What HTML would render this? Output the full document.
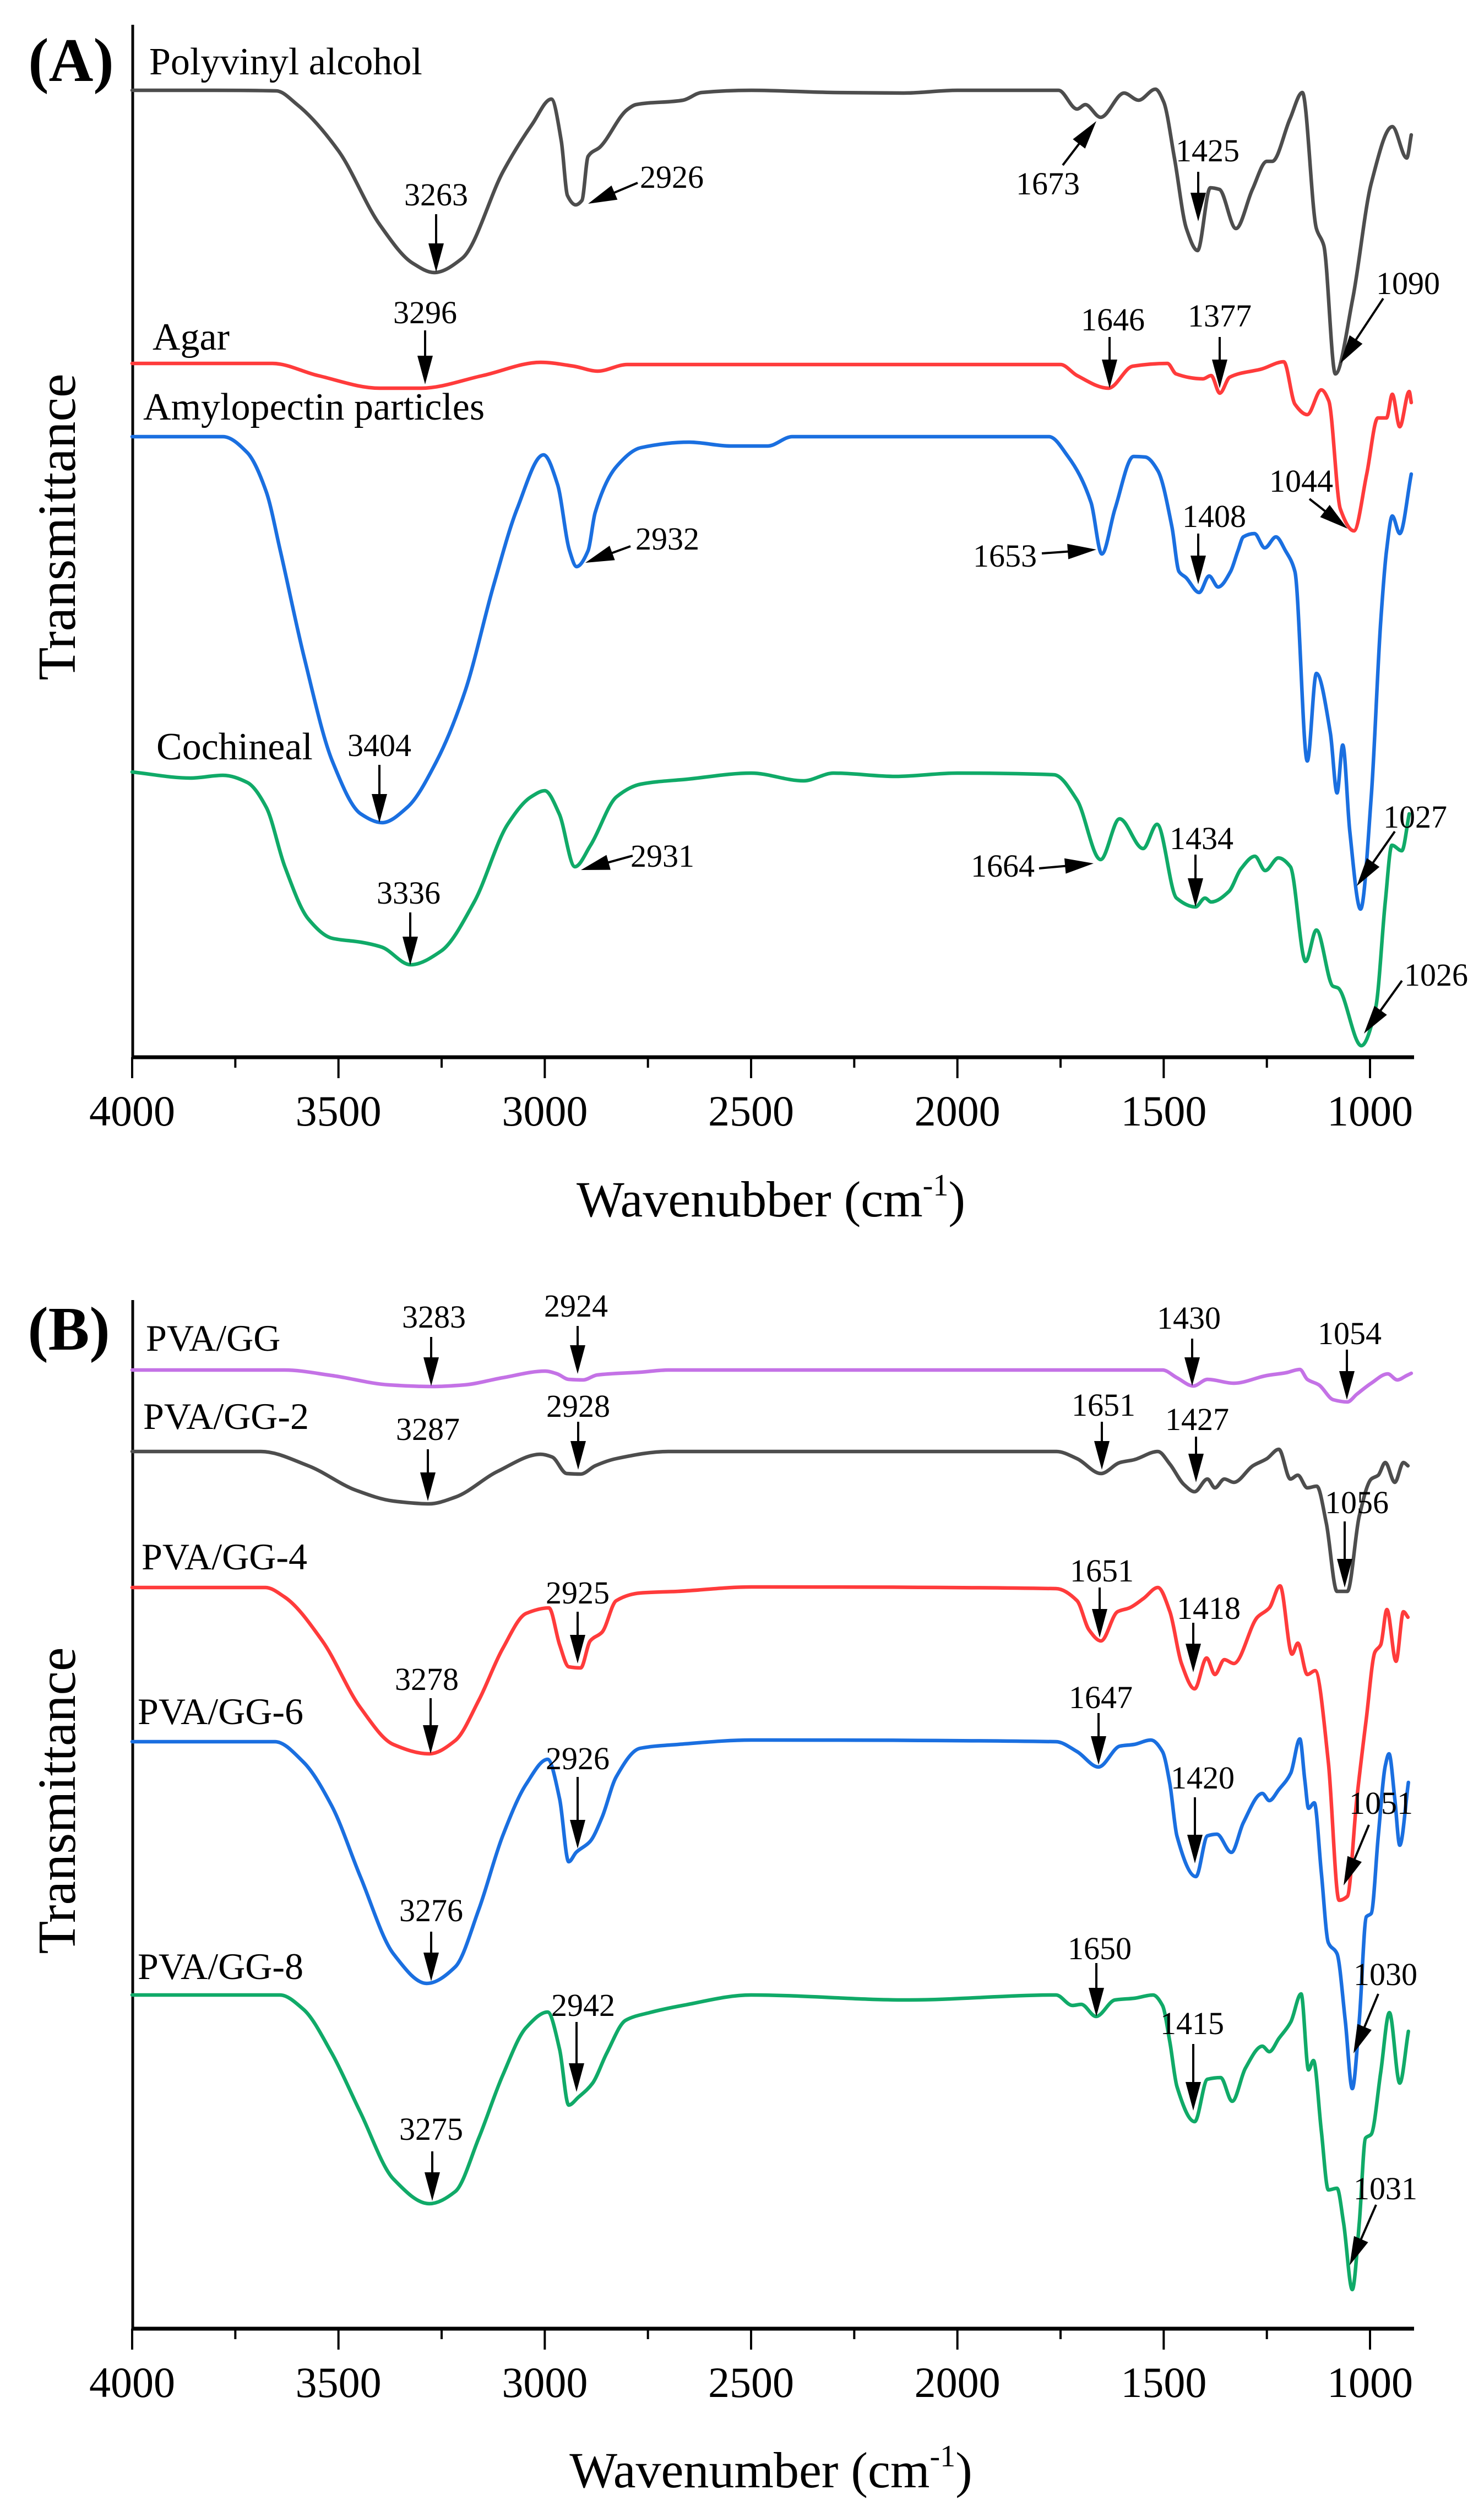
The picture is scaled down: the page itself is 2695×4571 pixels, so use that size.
<!DOCTYPE html>
<html><head><meta charset="utf-8"><title>FTIR spectra</title>
<style>
html,body{margin:0;padding:0;background:#fff;}
svg{display:block;}
text{font-family:"Liberation Serif","Times New Roman",serif;fill:#000;}
</style></head>
<body>
<svg id="chart" xmlns="http://www.w3.org/2000/svg" width="2695" height="4571" viewBox="0 0 2695 4571">
<rect x="0" y="0" width="2695" height="4571" fill="#fff"/>
<g id="panelA"></g>
<g id="panelB"></g>
</svg>
<script>
// ---------- DATA (panel A) ----------
const wPVA = [4000,3800,3651,3600,3500,3400,3320,3268,3200,3100,3030,2984,2960,2945,2925,2910,2895,2866,2800,2779,2665,2620,2500,2300,2130,2000,1755,1710,1690,1653,1596,1561,1520,1500,1474,1445,1418,1387,1365,1325,1285,1250,1237,1194,1164,1130,1112,1084,1042,997,946,911,900];
const tPVA = [175.6,175.6,175.5,173,164.6,151.2,144.2,142.5,145.1,161,169.5,174,166.4,156.5,154.8,155.6,163.6,165.3,172.1,173,173.8,175.2,175.6,175.2,175.1,175.6,175.6,172.2,173,170.7,175.1,173.8,175.8,173.5,163.3,150.5,146.5,157.9,157.6,150.5,157.6,162.7,162.7,170.4,175.2,150.5,147.4,124.1,137.7,158.7,169,163.3,167.5];
const wAgar = [4000,3660,3550,3400,3300,3150,3010,2930,2872,2800,1750,1710,1634,1575,1491,1470,1405,1385,1364,1340,1262,1209,1182,1152,1118,1100,1072,1039,1008,981,960,946,928,905,900];
const tAgar = [126.0,126.0,123.8,121.5,121.5,123.8,126.2,125.5,124.6,125.8,125.8,123.8,121.5,125.5,126.0,124.1,123.2,123.8,120.6,123.5,125.0,126.3,118.6,116.7,121.2,119.2,99.6,95.6,105.9,116.1,116.1,120.4,114.5,120.9,118.9];
const wAmy = [4000,3780,3721,3675,3641,3584,3515,3446,3394,3333,3262,3193,3124,3067,3003,2969,2940,2923,2895,2878,2826,2767,2650,2550,2460,2400,1778,1732,1676,1650,1618,1573,1545,1514,1480,1463,1446,1414,1390,1368,1338,1320,1307,1280,1255,1228,1205,1182,1152,1130,1096,1080,1066,1049,1023,997,974,960,946,928,900];
const tAmy = [112.7,112.7,109.8,102.7,92.0,72.9,53.8,44.2,42.6,45.4,53.8,66.5,85.7,99.6,109.4,104.0,92.0,89.1,92.0,98.9,107.3,110.7,111.7,111.0,111.0,112.7,112.7,109.1,100.7,91.4,99.6,109.1,109.0,106.5,96.3,88.2,87.1,84.4,87.4,85.4,88.2,92.0,94.5,95.1,92.5,94.5,92.0,88.2,53.8,69.7,58.8,48.0,56.7,41.0,26.9,47.3,79.2,92.0,98.3,95.1,105.9];
const wCoch = [4000,3859,3780,3721,3675,3630,3573,3515,3446,3395,3325,3251,3171,3090,3033,3000,2965,2927,2889,2826,2767,2654,2500,2373,2300,2150,2000,1766,1710,1653,1607,1550,1516,1469,1423,1400,1385,1342,1313,1279,1254,1222,1193,1156,1130,1090,1078,1021,986,963,947,923,905];
const tCoch = [51.8,50.7,51.2,49.9,45.4,34.6,25.1,21.6,20.9,20.0,16.8,19.3,28.2,42.3,47.3,48.4,44.2,34.6,38.5,47.3,49.6,50.5,51.6,50.2,51.6,51.0,51.6,51.3,46.7,35.9,43.3,37.9,42.3,28.9,27.3,28.9,28.2,30.1,34.2,36.5,33.9,36.2,34.6,17.4,23.1,12.9,12.6,2.1,9.1,28.2,38.5,37.5,44.2];
// ---------- DATA (panel B) ----------
const wGG = [4000,3631,3516,3378,3275,3194,3102,2999,2970,2942,2907,2873,2769,2700,1503,1468,1428,1394,1330,1250,1204,1170,1152,1124,1089,1055,1032,997,957,934,911,900];
const tGG = [174.1,174.1,173.1,171.4,171.1,171.4,172.7,173.9,173.4,172.4,172.3,173.2,173.7,174.1,174.1,172.7,171.2,172.4,171.7,173.1,173.6,174.2,172.4,171.4,168.7,168.3,169.7,171.7,173.4,172.3,173.1,173.5];
const wGG2 = [4000,3688,3573,3459,3367,3280,3217,3114,3010,2982,2947,2913,2878,2827,2700,1760,1710,1652,1606,1572,1514,1485,1451,1425,1394,1376,1353,1330,1284,1250,1221,1193,1175,1152,1129,1106,1080,1055,1026,997,980,963,940,919,908];
const tGG2 = [159.3,159.3,156.7,152.3,150.3,149.8,151.0,155.7,158.8,158.3,155.3,155.2,156.7,158.0,159.3,159.3,158.0,155.3,157.3,157.8,159.3,157.0,153.3,152.0,154.3,152.7,154.3,153.7,156.7,158.0,159.7,154.3,155.0,152.7,153.0,146.3,133.9,133.9,147.6,154.3,155.0,157.3,153.7,157.3,156.7];
const wGG4 = [4000,3677,3631,3539,3447,3367,3280,3217,3160,3102,3045,2990,2964,2942,2913,2890,2861,2827,2769,2677,2500,1761,1710,1681,1652,1612,1583,1549,1514,1485,1457,1425,1396,1376,1353,1330,1273,1244,1218,1189,1175,1152,1133,1101,1075,1055,1032,1009,988,974,959,937,919,908];
const tGG4 = [134.6,134.6,132.9,124.9,112.8,106.1,104.4,106.8,114.1,123.5,129.9,130.9,124.2,120.2,120.0,124.9,126.5,132.2,133.6,133.9,134.7,134.4,132.2,126.9,124.9,130.2,130.9,132.6,134.6,130.2,120.8,116.2,121.8,118.8,121.5,120.8,129.2,130.9,134.9,122.5,124.5,118.8,119.5,102.9,77.8,78.5,96.2,110.8,122.9,124.2,130.6,121.2,130.2,129.2];
const wGG6 = [4000,3654,3585,3516,3447,3367,3286,3217,3160,3102,3045,2993,2964,2942,2924,2890,2861,2827,2769,2677,2500,1761,1710,1658,1606,1572,1531,1503,1485,1468,1422,1394,1371,1336,1307,1261,1244,1221,1192,1170,1158,1149,1135,1118,1101,1080,1060,1043,1026,1009,997,980,963,954,940,928,907];
const tGG6 = [106.6,106.6,102.9,94.9,82.1,68.1,62.7,65.7,76.1,89.5,98.9,103.4,96.2,84.8,86.5,88.5,92.9,100.2,105.4,106.1,106.9,106.6,104.8,102.0,105.8,106.1,106.9,104.8,98.9,89.5,82.1,89.5,89.8,86.5,91.9,97.2,95.9,97.9,100.9,107.1,99.6,94.5,95.5,82.8,70.1,68.1,56.0,43.6,56.0,74.8,75.4,89.5,102.2,104.4,96.2,87.8,99.2];
const wGG8 = [4000,3642,3585,3516,3447,3367,3280,3217,3160,3102,3045,2993,2964,2942,2919,2884,2850,2804,2746,2666,2500,2123,1761,1721,1700,1664,1618,1572,1526,1503,1485,1468,1425,1394,1362,1334,1302,1261,1244,1221,1192,1167,1149,1137,1118,1101,1080,1064,1043,1026,1011,997,974,953,928,907];
const tGG8 = [60.6,60.6,58.0,50.0,39.3,27.2,22.7,24.9,34.6,46.0,54.7,57.5,50.7,40.6,42.0,44.6,50.0,56.0,57.4,58.7,60.6,59.7,60.6,58.7,58.9,56.7,59.7,60.0,60.6,58.7,52.0,44.0,37.6,45.3,45.6,41.3,47.3,51.3,50.3,52.7,55.7,60.8,47.0,48.7,35.9,25.2,25.5,19.2,7.1,19.2,34.6,35.3,46.6,57.4,44.6,54.0];
const xTicksMajor = [4000,3500,3000,2500,2000,1500,1000];
const xTicksMinor = [3750,3250,2750,2250,1750,1250];

// ---------- LAYOUT ----------
const NS = "http://www.w3.org/2000/svg";
const X0 = 240, X1 = 2488;
function xScale(w){ return X0 + (4000 - w) * (X1 - X0) / 3000; }
function yScaleA(v){ return 1920 - v * 10; }
function yScaleB(v){ return 4229 - v * 10; }

function mk(tag, attrs, parent){
  const e = document.createElementNS(NS, tag);
  for (const k in attrs) e.setAttribute(k, attrs[k]);
  parent.appendChild(e);
  return e;
}
// monotone cubic (Fritsch-Carlson) in x
function smoothPath(pts){
  const n = pts.length;
  const d = [], m = [];
  for (let i = 0; i < n - 1; i++){
    const h = pts[i+1][0] - pts[i][0];
    d.push(h === 0 ? 0 : (pts[i+1][1] - pts[i][1]) / h);
  }
  m[0] = d[0]; m[n-1] = d[n-2];
  for (let i = 1; i < n - 1; i++){
    if (d[i-1] * d[i] <= 0) m[i] = 0;
    else {
      const h0 = pts[i][0] - pts[i-1][0], h1 = pts[i+1][0] - pts[i][0];
      const w1 = 2*h1 + h0, w2 = h1 + 2*h0;
      m[i] = (w1 + w2) / (w1 / d[i-1] + w2 / d[i]);
    }
  }
  let s = "M" + pts[0][0].toFixed(1) + "," + pts[0][1].toFixed(1);
  for (let i = 0; i < n - 1; i++){
    const h = pts[i+1][0] - pts[i][0];
    const c1x = pts[i][0] + h/3, c1y = pts[i][1] + m[i]*h/3;
    const c2x = pts[i+1][0] - h/3, c2y = pts[i+1][1] - m[i+1]*h/3;
    s += " C" + c1x.toFixed(1) + "," + c1y.toFixed(1) + " " + c2x.toFixed(1) + "," + c2y.toFixed(1) + " " + pts[i+1][0].toFixed(1) + "," + pts[i+1][1].toFixed(1);
  }
  return s;
}
function drawSeries(g, ws, ts, yS, color, name){
  const n = Math.min(ws.length, ts.length);
  const pts = [];
  for (let i = 0; i < n; i++) pts.push([xScale(ws[i]), yS(ts[i])]);
  const p = mk("path", {d: smoothPath(pts), fill:"none", stroke:color, "stroke-width":6.5, "stroke-linejoin":"round", "stroke-linecap":"round"}, g);
  
  
}
function txt(g, x, y, s, size, anchor, name, weight){
  const t = mk("text", {x:x, y:y, "font-size":size, "text-anchor":anchor || "start"}, g);
  if (weight) t.setAttribute("font-weight", weight);
  t.textContent = s;
  
  
  return t;
}
function arrow(g, x1, y1, x2, y2, name){
  const dx = x2 - x1, dy = y2 - y1, L = Math.hypot(dx, dy);
  const ux = dx / L, uy = dy / L, hl = 52, hw = 14;
  const bx = x2 - ux*hl, by = y2 - uy*hl;
  const grp = mk("g", {}, g);
  
  
  mk("line", {x1:x1, y1:y1, x2:bx + ux*4, y2:by + uy*4, stroke:"#000", "stroke-width":4}, grp);
  mk("polygon", {points: x2+","+y2+" "+(bx - uy*hw)+","+(by + ux*hw)+" "+(bx + uy*hw)+","+(by - ux*hw), fill:"#000"}, grp);
}
function axes(g, yBottom, yTop, tickBase, titleBase, titleText, ylabelY, panelName){
  const la = mk("line", {x1:241, y1:yTop, x2:241, y2:yBottom, stroke:"#000", "stroke-width":5}, g);
  
  
  const ba = mk("line", {x1:239, y1:yBottom, x2:2568, y2:yBottom, stroke:"#000", "stroke-width":7}, g);
  
  
  xTicksMajor.forEach(function(w){
    const x = xScale(w);
    const t = mk("line", {x1:x, y1:yBottom, x2:x, y2:yBottom + 38, stroke:"#000", "stroke-width":4}, g);
    
    
    txt(g, x, tickBase, String(w), 78, "middle", panelName + '-x-tick-label-' + w);
  });
  xTicksMinor.forEach(function(w){
    const x = xScale(w);
    const t = mk("line", {x1:x, y1:yBottom, x2:x, y2:yBottom + 19, stroke:"#000", "stroke-width":4}, g);
    
    
  });
  const tt = mk("text", {x:1400, y:titleBase, "font-size":92, "text-anchor":"middle"}, g);
  
  
  const s1 = mk("tspan", {}, tt); s1.textContent = titleText + " (cm";
  const s2 = mk("tspan", {dy:-38, "font-size":56}, tt); s2.textContent = "-1";
  const s3 = mk("tspan", {dy:38}, tt); s3.textContent = ")";
  const yl = mk("text", {x:0, y:0, "font-size":98, "text-anchor":"middle", transform:"translate(136," + ylabelY + ") rotate(-90)"}, g);
  yl.textContent = "Transmittance";
  
  
}

// ---------- PANEL A ----------
const gA = document.getElementById("panelA");
axes(gA, 1920, 45, 2044, 2209, "Wavenubber", 957, "panel-a");
txt(gA, 129, 147, "(A)", 112, "middle", "panel-a-label", "bold");
drawSeries(gA, wPVA, tPVA, yScaleA, "#4d4d4d", "series-polyvinyl-alcohol");
drawSeries(gA, wAgar, tAgar, yScaleA, "#ff3b3b", "series-agar");
drawSeries(gA, wAmy, tAmy, yScaleA, "#1a6fe0", "series-amylopectin-particles");
drawSeries(gA, wCoch, tCoch, yScaleA, "#10aa68", "series-cochineal");
txt(gA, 271, 135, "Polyvinyl alcohol", 70, "start", "legend-polyvinyl-alcohol");
txt(gA, 277, 635, "Agar", 70, "start", "legend-agar");
txt(gA, 260, 762, "Amylopectin particles", 70, "start", "legend-amylopectin-particles");
txt(gA, 284, 1379, "Cochineal", 70, "start", "legend-cochineal");
const annA = [
  ["3263", 792, 373, "middle", 792, 389, 792, 494],
  ["2926", 1162, 341, "start", 1158, 332, 1068, 370],
  ["3296", 772, 587, "middle", 772, 600, 772, 698],
  ["2932", 1154, 998, "start", 1145, 992, 1063, 1022],
  ["1673", 1903, 353, "middle", 1930, 300, 1991, 220],
  ["1425", 2193, 293, "middle", 2176, 312, 2176, 402],
  ["1090", 2499, 534, "start", 2512, 542, 2434, 660],
  ["1646", 2021, 600, "middle", 2015, 612, 2015, 705],
  ["1377", 2215, 593, "middle", 2215, 612, 2215, 705],
  ["1044", 2305, 893, "start", 2378, 906, 2447, 960],
  ["1408", 2147, 957, "start", 2176, 969, 2176, 1061],
  ["1653", 1883, 1029, "end", 1892, 1005, 1991, 998],
  ["3404", 689, 1373, "middle", 689, 1389, 689, 1494],
  ["3336", 742, 1641, "middle", 745, 1657, 745, 1753],
  ["2931", 1145, 1574, "start", 1149, 1554, 1055, 1580],
  ["1664", 1879, 1592, "end", 1887, 1577, 1986, 1568],
  ["1434", 2124, 1542, "start", 2171, 1552, 2171, 1647],
  ["1027", 2512, 1503, "start", 2533, 1510, 2464, 1609],
  ["1026", 2550, 1790, "start", 2546, 1781, 2477, 1877]
];
annA.forEach(function(a){
  txt(gA, a[1], a[2], a[0], 58, a[3], "peak-label-" + a[0]);
  arrow(gA, a[4], a[5], a[6], a[7], "peak-arrow-" + a[0]);
});

// ---------- PANEL B ----------
const gB = document.getElementById("panelB");
axes(gB, 4229, 2361, 4353, 4517, "Wavenumber", 3270, "panel-b");
txt(gB, 125, 2451, "(B)", 112, "middle", "panel-b-label", "bold");
drawSeries(gB, wGG, tGG, yScaleB, "#c472e6", "series-pva-gg");
drawSeries(gB, wGG2, tGG2, yScaleB, "#4d4d4d", "series-pva-gg-2");
drawSeries(gB, wGG4, tGG4, yScaleB, "#ff3b3b", "series-pva-gg-4");
drawSeries(gB, wGG6, tGG6, yScaleB, "#1a6fe0", "series-pva-gg-6");
drawSeries(gB, wGG8, tGG8, yScaleB, "#10aa68", "series-pva-gg-8");
txt(gB, 265, 2453, "PVA/GG", 68, "start", "legend-pva-gg");
txt(gB, 260, 2595, "PVA/GG-2", 68, "start", "legend-pva-gg-2");
txt(gB, 257, 2850, "PVA/GG-4", 68, "start", "legend-pva-gg-4");
txt(gB, 250, 3131, "PVA/GG-6", 68, "start", "legend-pva-gg-6");
txt(gB, 250, 3594, "PVA/GG-8", 68, "start", "legend-pva-gg-8");
const annB = [
  ["3283", 788, 2411, "middle", 783, 2428, 783, 2517],
  ["2924", 1046, 2391, "middle", 1049, 2408, 1049, 2495],
  ["3287", 777, 2615, "middle", 777, 2632, 777, 2726],
  ["2928", 1050, 2573, "middle", 1050, 2582, 1050, 2669],
  ["2925", 1049, 2912, "middle", 1049, 2927, 1049, 3021],
  ["3278", 775, 3069, "middle", 782, 3084, 782, 3185],
  ["2926", 1049, 3213, "middle", 1049, 3227, 1049, 3357],
  ["3276", 783, 3489, "middle", 783, 3508, 783, 3598],
  ["2942", 1059, 3661, "middle", 1047, 3672, 1047, 3799],
  ["3275", 783, 3886, "middle", 785, 3907, 785, 3997],
  ["1430", 2159, 2413, "middle", 2165, 2431, 2165, 2517],
  ["1054", 2451, 2441, "middle", 2446, 2451, 2446, 2542],
  ["1651", 2004, 2571, "middle", 2001, 2582, 2001, 2669],
  ["1427", 2174, 2597, "middle", 2172, 2609, 2172, 2692],
  ["1056", 2464, 2748, "middle", 2442, 2763, 2442, 2883],
  ["1651", 2001, 2872, "middle", 1997, 2883, 1997, 2974],
  ["1418", 2195, 2940, "middle", 2167, 2947, 2167, 3037],
  ["1647", 1999, 3102, "middle", 1995, 3111, 1995, 3205],
  ["1420", 2184, 3248, "middle", 2170, 3264, 2170, 3384],
  ["1051", 2450, 3294, "start", 2486, 3314, 2440, 3424],
  ["1030", 2458, 3605, "start", 2503, 3621, 2458, 3729],
  ["1650", 1997, 3558, "middle", 1991, 3565, 1991, 3662],
  ["1415", 2165, 3694, "middle", 2167, 3712, 2167, 3833],
  ["1031", 2458, 3994, "start", 2499, 4004, 2451, 4114]
];
annB.forEach(function(a){
  txt(gB, a[1], a[2], a[0], 58, a[3], "peak-label-" + a[0]);
  arrow(gB, a[4], a[5], a[6], a[7], "peak-arrow-" + a[0]);
});
</script>
</body></html>
